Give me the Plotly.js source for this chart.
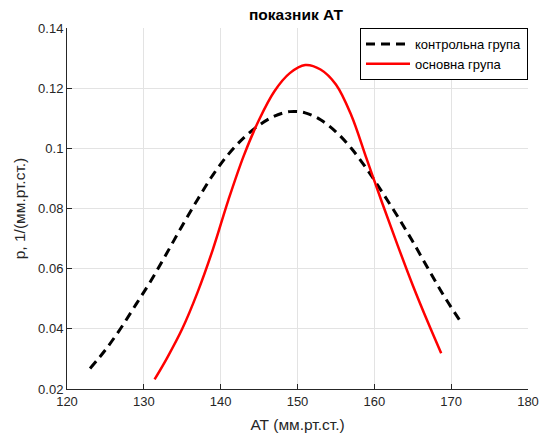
<!DOCTYPE html>
<html>
<head>
<meta charset="utf-8">
<script src="https://cdn.plot.ly/plotly-3.0.1.min.js"></script>
<style>html,body{margin:0;padding:0;background:#fff;}#chart{width:546px;height:436px;}</style>
</head>
<body>
<div id="chart"></div>
<script>
const controlX = [123, 125, 127, 129, 131, 133, 135, 137, 139, 141, 143, 145, 147, 149, 151, 153, 155, 157, 159, 161, 163, 165, 167, 169, 171.2];
const controlY = [0.0268, 0.0330, 0.0402, 0.0482, 0.0563, 0.0652, 0.0743, 0.0830, 0.0912, 0.0980, 0.1035, 0.1077, 0.1107, 0.1122, 0.1118, 0.1095, 0.1055, 0.1000, 0.0932, 0.0855, 0.0775, 0.0690, 0.0600, 0.0512, 0.0425];
const mainX = [131.4, 133, 135, 137, 139, 141, 143, 145, 147, 149, 151, 153, 155, 157, 159, 161, 163, 165, 167, 168.7];
const mainY = [0.0232, 0.0302, 0.0400, 0.0522, 0.0665, 0.0828, 0.0975, 0.1095, 0.1190, 0.1250, 0.1277, 0.1262, 0.1212, 0.1110, 0.0965, 0.0820, 0.0680, 0.0545, 0.0420, 0.0319];
const seriesNames = ["контрольна група", "основна група"];
const chartTitle = "показник АТ";
const xTitle = "АТ (мм.рт.ст.)";
const yTitle = "p, 1/(мм.рт.ст.)";

const font = "Liberation Sans, Arial, Helvetica, sans-serif";
const traces = [
  {x: controlX, y: controlY, name: seriesNames[0], mode: "lines",
   line: {color: "#000000", width: 3, dash: "9px,6px", shape: "spline", smoothing: 1}},
  {x: mainX, y: mainY, name: seriesNames[1], mode: "lines",
   line: {color: "#ff0000", width: 2.5, shape: "spline", smoothing: 1}}
];
const axisCommon = {
  showline: true, linecolor: "#262626", linewidth: 1,
  ticks: "inside", ticklen: 5, tickcolor: "#262626",
  showgrid: true, gridcolor: "#e3e3e3", gridwidth: 1,
  zeroline: false, mirror: false,
  tickfont: {family: font, size: 13, color: "#262626"}
};
const layout = {
  width: 546, height: 436,
  margin: {l: 67, r: 18, t: 28, b: 47},
  paper_bgcolor: "#ffffff", plot_bgcolor: "#ffffff",
  showlegend: true,
  title: {text: "<b>" + chartTitle + "</b>", font: {family: font, size: 15.5, color: "#000"}, x: 0.542, xanchor: "center", y: 0.9656, yanchor: "middle"},
  xaxis: Object.assign({}, axisCommon, {range: [120, 180], dtick: 10, tick0: 120,
    title: {text: xTitle, font: {family: font, size: 15.5, color: "#262626"}, standoff: 11}}),
  yaxis: Object.assign({}, axisCommon, {range: [0.02, 0.14], dtick: 0.02, tick0: 0.02,
    title: {text: yTitle, font: {family: font, size: 15.5, color: "#262626"}, standoff: 8}}),
  legend: {x: 1, xanchor: "right", y: 1, yanchor: "top", bgcolor: "#ffffff",
    bordercolor: "#000000", borderwidth: 1, font: {family: font, size: 13, color: "#000"},
    tracegroupgap: 0, itemwidth: 44}
};
Plotly.newPlot("chart", traces, layout, {displayModeBar: false, staticPlot: true});
</script>
</body>
</html>
